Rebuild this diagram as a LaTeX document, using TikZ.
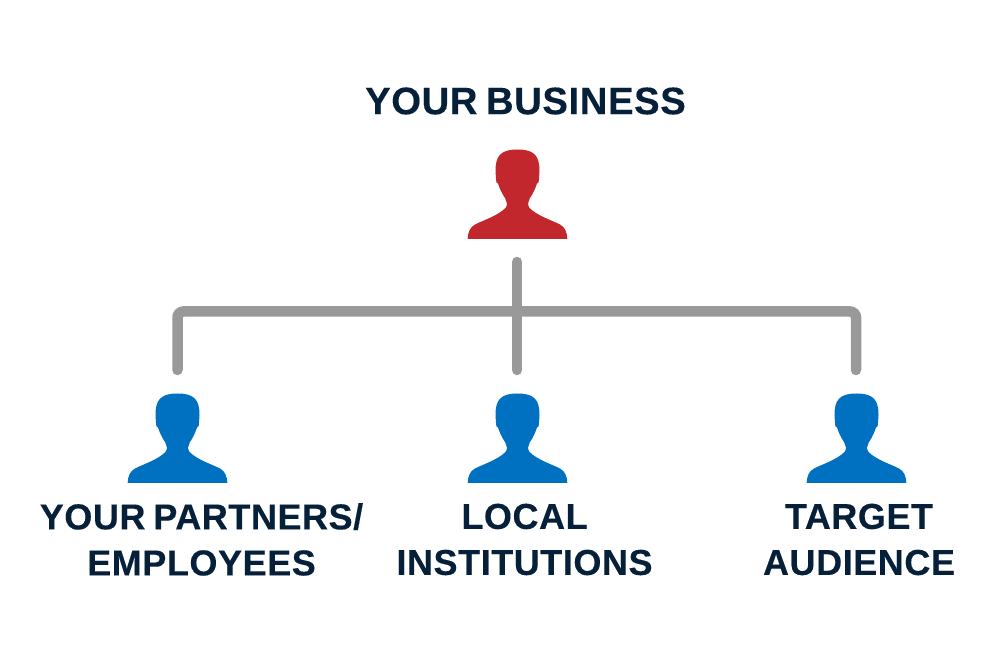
\documentclass[tikz,border=0pt]{standalone}
\usepackage{fontspec}
\setmainfont{Liberation Sans}[LetterSpace=1.5,WordSpace=0.75,BoldFeatures={FakeBold=0.25}]
\usetikzlibrary{positioning,calc}
\definecolor{navy}{HTML}{06203A}
\definecolor{busred}{HTML}{C1272D}
\definecolor{peopleblue}{HTML}{0070C0}
\definecolor{linegray}{HTML}{999999}
\tikzset{
  caption/.style={text=navy,font=\fontsize{20.5}{26.2}\selectfont\bfseries,align=center,inner sep=0pt},
  title/.style={text=navy,font=\fontsize{21.8}{26}\selectfont\bfseries,align=center,inner sep=0pt},
  link/.style={draw=linegray,line width=0.21cm,line cap=round,rounded corners=0.12cm},
  person/.pic={
    \fill (-0.996,0) .. controls (-0.99,0.15) and (-0.95,0.23) .. (-0.85,0.29)
      .. controls (-0.72,0.36) and (-0.40,0.46) .. (-0.24,0.62)
      .. controls (-0.22,0.65) and (-0.21,0.68) .. (-0.21,0.71)
      .. controls (-0.22,0.78) and (-0.26,0.84) .. (-0.30,0.90)
      .. controls (-0.34,0.98) and (-0.37,1.04) .. (-0.39,1.11)
      .. controls (-0.42,1.11) and (-0.43,1.14) .. (-0.43,1.20)
      -- (-0.44,1.36)
      .. controls (-0.44,1.66) and (-0.34,1.79) .. (0,1.79)
      .. controls (0.34,1.79) and (0.44,1.66) .. (0.44,1.36)
      -- (0.43,1.20)
      .. controls (0.43,1.14) and (0.42,1.11) .. (0.39,1.11)
      .. controls (0.37,1.04) and (0.34,0.98) .. (0.30,0.90)
      .. controls (0.26,0.84) and (0.22,0.78) .. (0.21,0.71)
      .. controls (0.21,0.68) and (0.22,0.65) .. (0.24,0.62)
      .. controls (0.40,0.46) and (0.72,0.36) .. (0.85,0.29)
      .. controls (0.95,0.23) and (0.99,0.15) .. (0.996,0) -- cycle;
  }
}
\begin{document}
\begin{tikzpicture}
    \useasboundingbox (0,0) rectangle (19.82,13.42);

    % Top person
    \node[title] (business) at (10.51,11.40) {YOUR BUSINESS};
    \pic[busred] at (10.35,8.64) {person};

    % Bottom people
    \pic[peopleblue] at (3.55,3.76) {person};
    \pic[peopleblue] at (10.35,3.76) {person};
    \pic[peopleblue] at (17.13,3.76) {person};

    % Bottom captions
    \node[caption] (partners) at (4.03,2.63) {YOUR PARTNERS/\\EMPLOYEES};
    \node[caption] (local) at (10.49,2.63) {LOCAL\\INSTITUTIONS};
    \node[caption] (target) at (17.18,2.63) {TARGET\\AUDIENCE};

    % Connector ends
    \coordinate (trunkTop) at (10.34,8.18);
    \coordinate (trunkEnd) at (10.34,6.02);
    \coordinate (leftEnd) at (3.55,6.02);
    \coordinate (rightEnd) at (17.12,6.02);
    \coordinate (barLeft) at (3.55,7.19);
    \coordinate (barRight) at (17.12,7.19);

    % Connectors
    \draw[link] (trunkTop) -- (trunkEnd);
    \draw[link] (leftEnd) -- (barLeft) -- (barRight) -- (rightEnd);
\end{tikzpicture}
\end{document}
